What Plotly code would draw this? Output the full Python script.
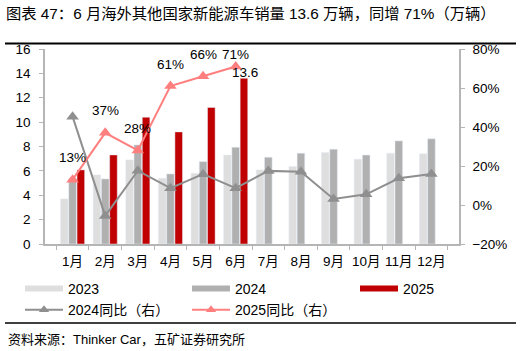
import plotly.graph_objects as go

months = ["1月", "2月", "3月", "4月", "5月", "6月", "7月", "8月", "9月", "10月", "11月", "12月"]
sales_2023 = [3.7, 5.67, 6.9, 5.4, 5.8, 7.3, 6.08, 6.35, 7.5, 6.96, 7.45, 7.4]
sales_2024 = [5.4, 5.34, 8.13, 5.75, 6.76, 7.94, 7.12, 7.45, 7.78, 7.3, 8.46, 8.63]
sales_2025 = [6.08, 7.31, 10.4, 9.2, 11.2, 13.6]
yoy_2024 = [45.3, -5.6, 17.6, 8.6, 15.8, 8.6, 17.5, 17.1, 3.1, 5.5, 13.7, 15.9]
yoy_2025 = [13, 37, 28, 61, 66, 71]
yoy_2025_labels = ["13%", "37%", "28%", "61%", "66%", "71%"]

FONT = "Liberation Sans, Arial, Noto Sans CJK SC, sans-serif"
C23 = "#dedede"
C24 = "#b0b0b0"
C25 = "#c00000"
CL24 = "#8f8f8f"
CL25 = "#ff7f7f"
AXC = "#b5b5b5"

W, H = 522, 351
L, R, T, B = 45, 63, 49, 107
PW, PH = W - L - R, H - T - B

def px_x(x):
    return (x - L) / PW

def px_y(y):
    return (H - B - y) / PH

fig = go.Figure()
fig.add_bar(x=months, y=sales_2023, name="2023", marker_color=C23, showlegend=False)
fig.add_bar(x=months, y=sales_2024, name="2024", marker_color=C24, showlegend=False)
fig.add_bar(x=months[:6], y=sales_2025, name="2025", marker_color=C25, showlegend=False)

fig.add_scatter(x=months, y=yoy_2024, yaxis="y2", mode="lines+markers", name="2024同比（右）",
                line=dict(color=CL24, width=2), marker=dict(symbol="triangle-up", size=11, color=CL24),
                showlegend=False)
fig.add_scatter(x=months[:6], y=yoy_2025, yaxis="y2", mode="lines+markers", name="2025同比（右）",
                line=dict(color=CL25, width=2), marker=dict(symbol="triangle-up", size=11, color=CL25),
                showlegend=False)

# legend proxies, one legend per column
fig.add_scatter(x=[None], y=[None], mode="lines", name="2023", line=dict(color=C23, width=6), legend="legend")
fig.add_scatter(x=[None], y=[None], mode="lines+markers", name="2024同比（右）", yaxis="y2",
                line=dict(color=CL24, width=2), marker=dict(symbol="triangle-up", size=9, color=CL24),
                legend="legend")
fig.add_scatter(x=[None], y=[None], mode="lines", name="2024", line=dict(color=C24, width=6), legend="legend2")
fig.add_scatter(x=[None], y=[None], mode="lines+markers", name="2025同比（右）", yaxis="y2",
                line=dict(color=CL25, width=2), marker=dict(symbol="triangle-up", size=9, color=CL25),
                legend="legend2")
fig.add_scatter(x=[None], y=[None], mode="lines", name="2025", line=dict(color=C25, width=6), legend="legend3")

ann = []
for i, (v, t) in enumerate(zip(yoy_2025, yoy_2025_labels)):
    ann.append(dict(x=months[i], y=v, xref="x", yref="y2", text=t, showarrow=False,
                    yshift=12 if i == 5 else 22, font=dict(size=13.5, color="#000", family=FONT)))
ann.append(dict(x=months[5], y=sales_2025[5], xref="x", yref="y", text=f"{sales_2025[5]}",
                showarrow=False, xshift=9, yshift=6, font=dict(size=13.5, color="#000", family=FONT)))
ann.append(dict(x=px_x(6), y=px_y(339), xref="paper", yref="paper", xanchor="left", yanchor="middle",
                text="资料来源：Thinker Car，五矿证券研究所", showarrow=False,
                font=dict(size=13, color="#000", family=FONT)))

shapes = [
    dict(type="line", xref="paper", yref="paper", x0=px_x(5), x1=px_x(516), y0=px_y(43.5), y1=px_y(43.5),
         line=dict(color="#000", width=2)),
    dict(type="line", xref="paper", yref="paper", x0=px_x(5), x1=px_x(516), y0=px_y(323), y1=px_y(323),
         line=dict(color="#000", width=1.5)),
]

def leg(xpx):
    return dict(orientation="v", x=px_x(xpx), y=px_y(273), xanchor="left", yanchor="top",
                itemwidth=38, font=dict(size=14, color="#000"), bgcolor="rgba(0,0,0,0)",
                tracegroupgap=0)

fig.update_layout(
    width=W, height=H,
    margin=dict(l=L, r=R, t=T, b=B),
    paper_bgcolor="white", plot_bgcolor="white",
    font=dict(family=FONT, size=13, color="#000"),
    barmode="group", bargap=0.24, bargroupgap=0.08,
    title=dict(text="图表 47：6 月海外其他国家新能源车销量 13.6 万辆，同增 71%（万辆）",
               x=6 / W, xanchor="left", xref="container", y=1 - 14 / H, yanchor="middle", yref="container",
               font=dict(size=15.3, color="#000", family=FONT)),
    xaxis=dict(type="category", showline=True, linecolor=AXC, linewidth=1.5, ticks="outside",
               tickson="boundaries", ticklen=4, tickcolor=AXC, showgrid=False, tickangle=0,
               ticklabelstandoff=4, tickfont=dict(size=13.5, color="#000")),
    yaxis=dict(range=[0, 16], dtick=2, showline=True, linecolor=AXC, linewidth=1.5, ticks="outside",
               ticklen=4, tickcolor=AXC, showgrid=False, zeroline=False, ticklabelstandoff=6,
               tickfont=dict(size=13.5, color="#000")),
    yaxis2=dict(range=[-20, 80], dtick=20, overlaying="y", side="right", ticksuffix="%", showline=True,
                linecolor=AXC, linewidth=1.5, ticks="outside", ticklen=4, tickcolor=AXC, showgrid=False,
                zeroline=False, ticklabelstandoff=5, tickfont=dict(size=13.5, color="#000")),
    legend=leg(20), legend2=leg(187), legend3=leg(355),
    annotations=ann, shapes=shapes,
)

fig.write_html("out.html")
